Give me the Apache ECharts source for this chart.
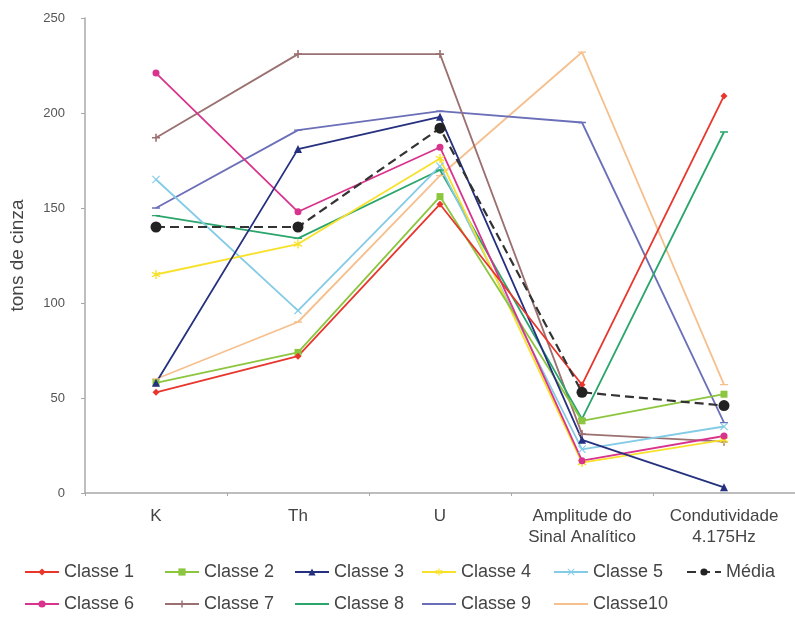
<!DOCTYPE html>
<html>
<head>
<meta charset="utf-8">
<script src="https://cdn.jsdelivr.net/npm/echarts@6/dist/echarts.min.js"></script>
<style>html,body{margin:0;padding:0;background:#fff}#c{width:795px;height:617px}</style>
</head>
<body>
<div id="c"></div>
<script>
var categories = ['K', 'Th', 'U', 'Amplitude do\nSinal Analítico', 'Condutividade\n4.175Hz'];
var yTicks = [0, 50, 100, 150, 200, 250];
var classe1 = [53, 72, 152, 57, 209];
var classe2 = [58, 74, 156, 38, 52];
var classe3 = [58, 181, 198, 28, 3];
var classe4 = [115, 131, 176, 16, 28];
var classe5 = [165, 96, 172, 23, 35];
var classe6 = [221, 148, 182, 17, 30];
var classe7 = [187, 231, 231, 31, 27];
var classe8 = [146, 134, 170, 39, 190];
var classe9 = [150, 191, 201, 195, 37];
var classe10 = [60, 90, 167, 232, 57];
var media = [140, 140, 192, 53, 46];
var seriesNames = ['Classe 1','Classe 2','Classe 3','Classe 4','Classe 5','Média','Classe 6','Classe 7','Classe 8','Classe 9','Classe10'];

var PLUS = 'path://M4,0h2v4h4v2h-4v4h-2v-4h-4v-2h4z';
var XMARK = 'path://M1,0L5,4L9,0L10,1L6,5L10,9L9,10L5,6L1,10L0,9L4,5L0,1z';
var STAR = 'path://M4.3,0h1.4v3.6l3.2,-1.8l0.7,1.2l-3.2,1.9l3.2,1.9l-0.7,1.2l-3.2,-1.8v3.6h-1.4v-3.6l-3.2,1.8l-0.7,-1.2l3.2,-1.9l-3.2,-1.9l0.7,-1.2l3.2,1.8z';
var DASH = 'path://M0,0h0.01v0.01h-0.01zM0,4.2h10v1.6h-10zM9.99,9.99h0.01v0.01h-0.01z';

function mk(name, data, color, symbol, size, extra) {
  var s = {
    name: name, type: 'line', data: data,
    symbol: symbol, symbolSize: size,
    lineStyle: { color: color, width: 1.8 },
    itemStyle: { color: color },
    emphasis: { disabled: true },
    animation: false
  };
  if (extra) { for (var k in extra) s[k] = extra[k]; }
  return s;
}

var series = [
  mk('Classe10', classe10, '#f6c08e', DASH, 8),
  mk('Classe 9', classe9, '#6b6fb8', DASH, 8),
  mk('Classe 7', classe7, '#9b7070', PLUS, 8),
  mk('Classe 8', classe8, '#2aa56b', DASH, 8),
  mk('Classe 5', classe5, '#84cbe6', XMARK, 8),
  mk('Classe 4', classe4, '#f8e12a', STAR, 9),
  mk('Classe 2', classe2, '#8cc63e', 'rect', 7),
  mk('Classe 6', classe6, '#d8338d', 'circle', 7),
  mk('Classe 3', classe3, '#25307f', 'triangle', 8),
  mk('Classe 1', classe1, '#e8362d', 'diamond', 7),
  mk('Média', media, '#222222', 'circle', 11, { lineStyle: { color: '#333', width: 2.2, type: [9, 5] }, z: 5 })
];

var legendText = [63, 203, 333, 460, 592, 725, 63, 203, 333, 460, 592];
var legendRow = [563, 563, 563, 563, 563, 563, 595, 595, 595, 595, 595];
var legends = seriesNames.map(function (n, i) {
  return {
    data: [n], left: legendText[i] - 39, top: legendRow[i],
    itemWidth: 34, itemHeight: 9, itemGap: 0, padding: 0,
    selectedMode: false,
    textStyle: { fontFamily: 'Liberation Sans, Arial', fontSize: 18, color: '#444' }
  };
});

var chart = echarts.init(document.getElementById('c'), null, { renderer: 'canvas' });
chart.setOption({
  animation: false,
  backgroundColor: '#fff',
  grid: { left: 84, top: 18, width: 712, height: 475, containLabel: false },
  legend: legends,
  xAxis: {
    type: 'category', data: categories, boundaryGap: true,
    axisLine: { lineStyle: { color: '#a8a8a8', width: 1.5 } },
    axisTick: { show: true, length: 3, lineStyle: { color: '#a8a8a8' } },
    axisLabel: { color: '#444', fontSize: 17, fontFamily: 'Liberation Sans, Arial', margin: 13, lineHeight: 21, interval: 0 }
  },
  yAxis: {
    type: 'value', min: yTicks[0], max: yTicks[yTicks.length - 1], interval: 50,
    name: 'tons de cinza', nameLocation: 'middle', nameGap: 58, nameRotate: 90,
    nameTextStyle: { color: '#444', fontSize: 19, fontFamily: 'Liberation Sans, Arial' },
    axisLine: { show: true, lineStyle: { color: '#a8a8a8', width: 1.5 } },
    axisTick: { show: true, length: 4, lineStyle: { color: '#a8a8a8' } },
    splitLine: { show: false },
    axisLabel: { color: '#555', fontSize: 13, fontFamily: 'Liberation Sans, Arial', margin: 20 }
  },
  series: series
});
</script>
</body>
</html>
